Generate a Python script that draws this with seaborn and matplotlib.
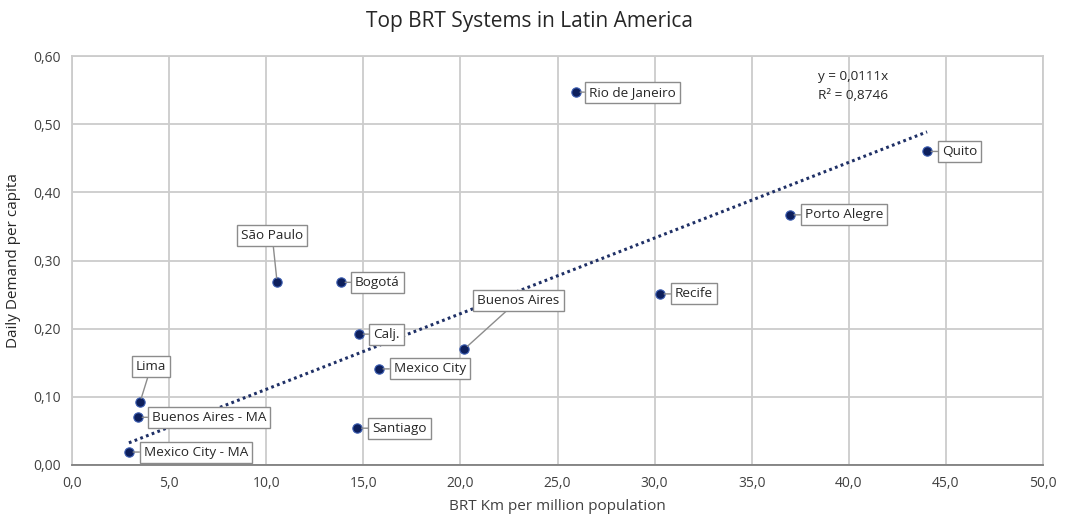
import numpy as np
import pandas as pd
import matplotlib
matplotlib.use("Agg")
import matplotlib.pyplot as plt
from matplotlib.ticker import FuncFormatter, MultipleLocator
import seaborn as sns

# data
cities = ["Mexico City - MA", "Buenos Aires - MA", "Lima", "São Paulo", "Bogotá",
          "Calj.", "Mexico City", "Santiago", "Buenos Aires", "Rio de Janeiro",
          "Recife", "Porto Alegre", "Quito"]
brt_km = [2.93, 3.40, 3.50, 10.56, 13.85, 14.78, 15.80, 14.70, 20.20, 25.95,
          30.28, 36.97, 44.03]
demand = [0.019, 0.070, 0.092, 0.268, 0.268, 0.192, 0.141, 0.054, 0.170, 0.547,
          0.251, 0.367, 0.460]
slope = 0.0111
r2 = 0.8746

# label offsets in pixels (text start relative to the point)
label_offsets = [(15, 0), (14, 0), (-4, 36), (-36, 47), (14, 0), (14, 0), (15, 0),
                 (15, 0), (13, 49), (13, 0), (15, 0), (15, 0), (15, 0)]

df = pd.DataFrame({"city": cities, "km": brt_km, "demand": demand})

sns.set_style("white")
plt.rcParams["font.family"] = ["Open Sans", "DejaVu Sans"]

text_col = "#595959"
dark_text = "#404040"
navy = "#0d1f5c"

fig = plt.figure(figsize=(10.67, 5.22), dpi=100)
ax = fig.add_axes([0.0675, 0.1092, 0.9100, 0.7835])

# trendline through origin
trend = pd.DataFrame({"km": [df["km"].min(), df["km"].max()]})
trend["demand"] = slope * trend["km"]
sns.lineplot(data=trend, x="km", y="demand", ax=ax, color="#1f3066",
             linewidth=2.2, linestyle=(0, (0.9, 1.1)), zorder=3)

sns.scatterplot(data=df, x="km", y="demand", ax=ax, color=navy, s=45,
                edgecolor="#3b5cb0", linewidth=0.8, zorder=4)

for (name, x, y), (dx, dy) in zip(df[["city", "km", "demand"]].values, label_offsets):
    ax.annotate(name, xy=(x, y), xytext=(dx, dy), textcoords="offset pixels",
                ha="left", va="center", fontsize=9.7, color="#262626",
                bbox=dict(boxstyle="square,pad=0.3", fc="white", ec="#8c8c8c", lw=1),
                arrowprops=dict(arrowstyle="-", color="#8c8c8c", lw=1,
                                shrinkA=0, shrinkB=3),
                zorder=5)

ax.text(40.2, 0.570, f"y = {slope:.4f}x".replace(".", ","), ha="center", va="center",
        fontsize=9.7, color="#262626")
ax.text(40.2, 0.542, f"R² = {r2:.4f}".replace(".", ","), ha="center", va="center",
        fontsize=9.7, color="#262626")

ax.set_xlim(0, 50)
ax.set_ylim(0, 0.6)
ax.xaxis.set_major_locator(MultipleLocator(5))
ax.yaxis.set_major_locator(MultipleLocator(0.1))
ax.xaxis.set_major_formatter(FuncFormatter(lambda v, p: f"{v:.1f}".replace(".", ",")))
ax.yaxis.set_major_formatter(FuncFormatter(lambda v, p: f"{v:.2f}".replace(".", ",")))
ax.grid(True, color="#cccccc", linewidth=1.3)
ax.set_axisbelow(True)
for side in ["top", "right", "left"]:
    ax.spines[side].set_color("#cccccc")
    ax.spines[side].set_linewidth(1.3)
ax.spines["bottom"].set_color("#7f7f7f")
ax.spines["bottom"].set_linewidth(1.3)
ax.tick_params(axis="both", length=0, labelsize=10, colors=dark_text, pad=8)

ax.set_xlabel("BRT Km per million population", fontsize=11, color=dark_text, labelpad=6)
ax.set_ylabel("Daily Demand per capita", fontsize=11, color="#262626", labelpad=9)
fig.text(0.496, 0.958, "Top BRT Systems in Latin America", ha="center", va="center",
         fontsize=15, color="#262626")

fig.savefig("out.png", dpi=100)
